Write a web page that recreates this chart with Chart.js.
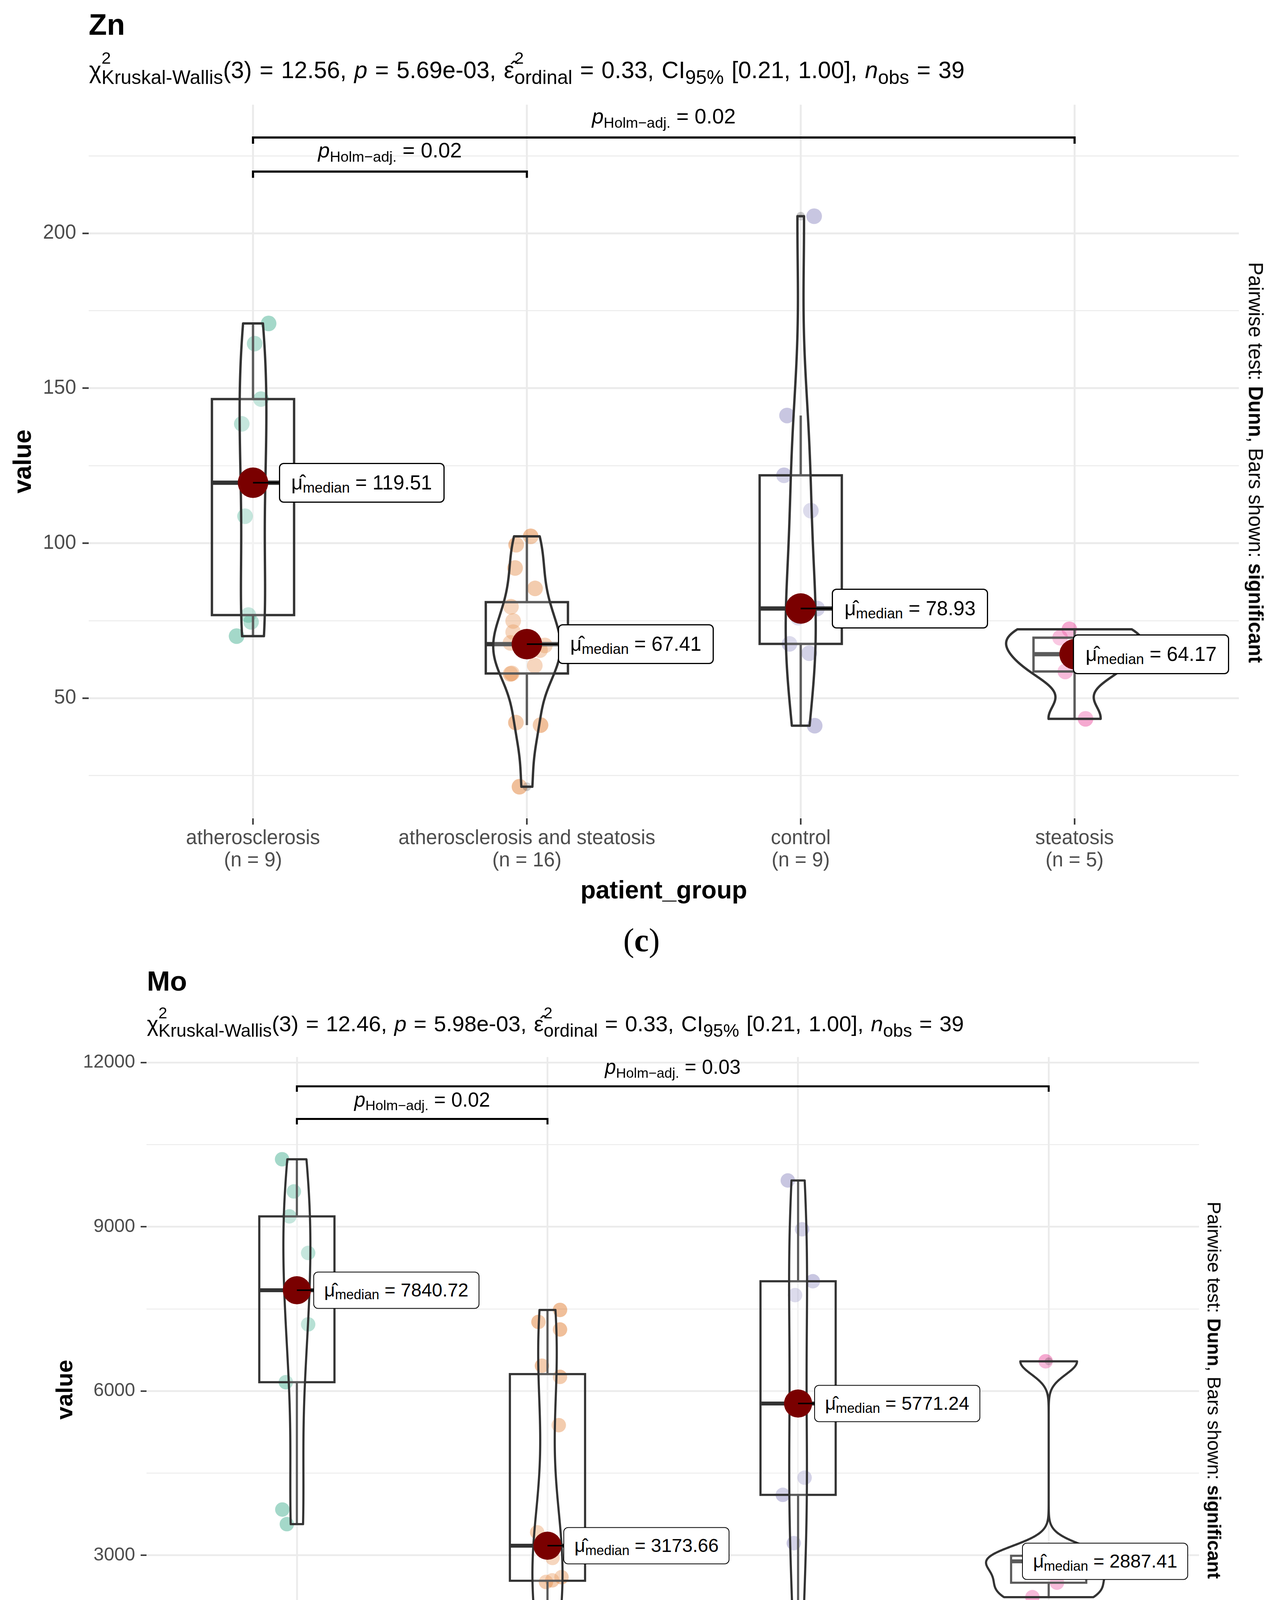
<!DOCTYPE html>
<html>
<head>
<meta charset="utf-8">
<script src="https://cdn.jsdelivr.net/npm/chart.js@4.4.0/dist/chart.umd.min.js"></script>
<style>
html,body{margin:0;padding:0;background:#fff;}
body{width:3289px;height:4772px;position:relative;overflow:hidden;font-family:"Liberation Sans",Arial,Helvetica,sans-serif;color:#000;}
#page{position:absolute;left:0;top:0;width:3289px;height:4772px;}
canvas{position:absolute;left:0;}
.t{position:absolute;white-space:nowrap;line-height:1;}
.ttl{font-weight:bold;}
.sub{word-spacing:3px;}
.ss{position:relative;display:inline-block;}
.ss .sp{position:absolute;left:0;top:-0.5em;font-size:0.72em;}
.sb{position:relative;top:0.3em;font-size:0.82em;}
.rot{transform:translate(-50%,-50%) rotate(90deg);}
.cap{font-family:"Liberation Serif","Times New Roman",serif;transform:translate(-50%,-50%);}
.mlab{position:absolute;white-space:nowrap;background:#fff;border:3px solid #000;border-radius:12px;box-sizing:border-box;transform:translateY(-50%);}
.mlab .msub{position:relative;top:0.22em;font-size:0.72em;}
.blab{position:absolute;white-space:nowrap;line-height:1;transform:translate(-50%,-50%);}
.blab .bsub{position:relative;top:0.28em;font-size:0.7em;}
</style>
</head>
<body>
<div id="page">
<canvas id="zn" width="3289" height="2340" style="top:0px;width:3289px;height:2340px"></canvas>
<canvas id="mo" width="3289" height="2230" style="top:2450px;width:3289px;height:2230px"></canvas>
</div>
<script>
// ---------------- data ----------------
const categories = ['atherosclerosis', 'atherosclerosis and steatosis', 'control', 'steatosis'];

// Zn values per group
const znAtherosclerosis = [170.9, 164.4, 146.5, 138.5, 119.51, 108.7, 76.8, 74.6, 70.0];
const znAthSteatosis   = [102.2, 99.5, 92.0, 85.4, 79.5, 74.9, 71.3, 67.82, 67.0, 65.5, 60.5, 58.0, 57.8, 42.1, 41.3, 21.4];
const znControl        = [205.5, 141.2, 121.9, 110.5, 78.93, 76.0, 67.5, 64.5, 41.1];
const znSteatosis      = [72.2, 69.5, 64.17, 58.6, 43.3];

// horizontal jitter of each point (category units)
const znAtherosclerosisJitter = [0.057, 0.006, 0.029, -0.041, 0.0, -0.029, -0.017, -0.007, -0.060];
const znAthSteatosisJitter   = [0.014, -0.039, -0.043, 0.030, -0.058, -0.050, -0.050, -0.060, 0.066, 0.048, 0.029, -0.055, -0.060, -0.040, 0.050, -0.027];
const znControlJitter        = [0.049, -0.050, -0.061, 0.037, 0.060, -0.010, -0.041, 0.031, 0.051];
const znSteatosisJitter      = [-0.019, -0.053, 0.0, -0.034, 0.040];

// Mo values per group
const moAtherosclerosis = [10233, 9645, 9189, 8521, 7840.72, 7216, 6160, 3834, 3567];
const moAthSteatosis   = [7480, 7261, 7123, 6461, 6257, 5375, 3418, 3227.32, 3120, 2950, 2598, 2540, 2511, 1784, 1681, 499];
const moControl        = [9845, 8953, 8004, 7751, 5771.24, 4416, 4102, 3220, 1266];
const moSteatosis      = [6542, 2989, 2887.41, 2497, 2233];

const moAtherosclerosisJitter = [-0.059, -0.012, -0.030, 0.045, 0.0, 0.045, -0.044, -0.058, -0.040];
const moAthSteatosisJitter   = [0.050, -0.036, 0.050, -0.022, 0.050, 0.045, -0.041, 0.010, -0.020, 0.020, 0.056, 0.019, -0.006, 0.061, -0.033, -0.008];
const moControlJitter        = [-0.041, 0.016, 0.059, -0.012, 0.0, 0.026, -0.061, -0.017, -0.059];
const moSteatosisJitter      = [-0.012, 0.030, 0.0, 0.033, -0.065];

// axis ticks
const znYTicks = [25, 50, 75, 100, 125, 150, 175, 200, 225];
const moYTicks = [0, 1500, 3000, 4500, 6000, 7500, 9000, 10500, 12000];

// pairwise significance brackets: [group a, group b, bracket height, p value]
const znBrackets = [[1, 2, 219.9, '0.02'], [1, 4, 230.9, '0.02']];
const moBrackets = [[1, 2, 10969, '0.02'], [1, 4, 11565, '0.03']];

// Kruskal-Wallis statistics: chi2, p, epsilon2, CI, n
const znStats = ['12.56', '5.69e-03', '0.33', '[0.21, 1.00]', '39'];
const moStats = ['12.46', '5.98e-03', '0.33', '[0.21, 1.00]', '39'];

// ---------------- helpers ----------------
const palette = [[27,158,119],[217,95,2],[117,112,179],[231,41,138]];
const pageEl = document.getElementById('page');
function q7(s, p){ const h=(s.length-1)*p, lo=Math.floor(h); const hi=Math.min(lo+1,s.length-1); return s[lo]+(h-lo)*(s[hi]-s[lo]); }
function sortN(a){ return [...a].sort((x,y)=>x-y); }
function median(a){ return q7(sortN(a), 0.5); }
function bwNrd0(x){
  const n=x.length, m=x.reduce((a,b)=>a+b,0)/n;
  const sd=Math.sqrt(x.reduce((a,b)=>a+(b-m)*(b-m),0)/(n-1));
  const s=sortN(x); const iqr=q7(s,.75)-q7(s,.25);
  let lo=Math.min(sd, iqr/1.34); if(!(lo>0)) lo = sd || Math.abs(x[0]) || 1;
  return 0.9*lo*Math.pow(n,-0.2);
}
function density(vals, n){
  const bw=bwNrd0(vals), from=Math.min(...vals), to=Math.max(...vals), out=[];
  const c=1/(vals.length*bw*Math.sqrt(2*Math.PI));
  for(let i=0;i<n;i++){ const y=from+(to-from)*i/(n-1); let s=0; for(const v of vals){ const z=(y-v)/bw; s+=Math.exp(-0.5*z*z);} out.push({y, d:s*c}); }
  return out;
}

function makePanel(P){
  const S=P.style;
  const groups=P.groups;
  const pts=[], cols=[];
  groups.forEach((vals,gi)=>{ vals.forEach((v,i)=>{ pts.push({x:gi+1+P.jitter[gi][i], y:v}); const c=palette[gi]; cols.push(`rgba(${c[0]},${c[1]},${c[2]},0.4)`); }); });
  const meds=groups.map((vals,gi)=>({x:gi+1, y:median(vals)}));

  const plugin={
    id:'violinBox',
    afterDatasetDraw(chart,args){
      if(args.index!==0) return;
      const ctx=chart.ctx, xs=chart.scales.x, ys=chart.scales.y;
      ctx.save();
      ctx.strokeStyle='#333333';
      groups.forEach((vals,gi)=>{
        const g=gi+1, s=sortN(vals);
        const q1=q7(s,.25), md=q7(s,.5), q3=q7(s,.75), iqr=q3-q1;
        const inside=s.filter(v=>v>=q1-1.5*iqr && v<=q3+1.5*iqr);
        const lo=Math.min(...inside), hi=Math.max(...inside);
        const xl=xs.getPixelForValue(g-0.15), xr=xs.getPixelForValue(g+0.15), xc=xs.getPixelForValue(g);
        ctx.lineWidth=S.whiskerW; ctx.lineCap='butt';
        ctx.beginPath();
        ctx.moveTo(xc,ys.getPixelForValue(q3)); ctx.lineTo(xc,ys.getPixelForValue(hi));
        ctx.moveTo(xc,ys.getPixelForValue(q1)); ctx.lineTo(xc,ys.getPixelForValue(lo));
        ctx.stroke();
        const yt=ys.getPixelForValue(q3), yb=ys.getPixelForValue(q1);
        ctx.fillStyle='rgba(255,255,255,0.2)'; ctx.fillRect(xl,yt,xr-xl,yb-yt);
        ctx.lineWidth=S.boxW; ctx.strokeRect(xl,yt,xr-xl,yb-yt);
        const ym=ys.getPixelForValue(md);
        ctx.lineWidth=S.medianW; ctx.beginPath(); ctx.moveTo(xl,ym); ctx.lineTo(xr,ym); ctx.stroke();
        s.filter(v=>v<q1-1.5*iqr||v>q3+1.5*iqr).forEach(v=>{
          ctx.fillStyle='rgba(51,51,51,0.25)'; ctx.beginPath(); ctx.arc(xc,ys.getPixelForValue(v),S.outlierR,0,2*Math.PI); ctx.fill();
        });
      });
      const dens=groups.map(v=>density(v,512));
      let maxD=0; dens.forEach(a=>a.forEach(p=>{ if(p.d>maxD) maxD=p.d; }));
      dens.forEach((a,gi)=>{
        const g=gi+1;
        ctx.beginPath();
        a.forEach((p,i)=>{ const x=xs.getPixelForValue(g-0.25*p.d/maxD), y=ys.getPixelForValue(p.y); if(i) ctx.lineTo(x,y); else ctx.moveTo(x,y); });
        for(let i=a.length-1;i>=0;i--){ const p=a[i]; ctx.lineTo(xs.getPixelForValue(g+0.25*p.d/maxD), ys.getPixelForValue(p.y)); }
        ctx.closePath();
        ctx.fillStyle='rgba(255,255,255,0.2)'; ctx.fill();
        ctx.lineWidth=S.violinW; ctx.lineJoin='round'; ctx.strokeStyle='#333333'; ctx.stroke();
      });
      ctx.restore();
    },
    afterDatasetsDraw(chart){
      const ctx=chart.ctx, xs=chart.scales.x, ys=chart.scales.y;
      ctx.save();
      ctx.strokeStyle='#000'; ctx.lineWidth=S.segW;
      meds.forEach((m,gi)=>{
        if(S.nudges[gi]<=0) return;
        const px=xs.getPixelForValue(m.x), py=ys.getPixelForValue(m.y);
        ctx.beginPath(); ctx.moveTo(px,py); ctx.lineTo(px+S.nudges[gi],py); ctx.stroke();
      });
      ctx.lineWidth=S.bracketW; ctx.lineJoin='miter';
      P.brackets.forEach(b=>{
        const x1=xs.getPixelForValue(b[0]), x2=xs.getPixelForValue(b[1]);
        const y=ys.getPixelForValue(b[2]), yt=ys.getPixelForValue(b[2]-S.tip);
        ctx.beginPath(); ctx.moveTo(x1,yt); ctx.lineTo(x1,y); ctx.lineTo(x2,y); ctx.lineTo(x2,yt); ctx.stroke();
      });
      ctx.restore();
    }
  };

  const chart=new Chart(document.getElementById(P.id),{
    type:'scatter',
    data:{datasets:[
      {data:pts, pointRadius:S.pointR, pointBackgroundColor:cols, pointBorderWidth:0, order:2},
      {data:meds, pointRadius:S.medianR, pointBackgroundColor:'#7a0000', pointBorderWidth:0, order:1}
    ]},
    options:{
      responsive:false, animation:false, devicePixelRatio:1, events:[],
      layout:{padding:S.pad},
      plugins:{legend:{display:false}, tooltip:{enabled:false}},
      scales:{
        x:{type:'linear', min:0.4, max:4.6, bounds:'data',
           afterBuildTicks:(sc)=>{ sc.ticks=[1,2,3,4].map(v=>({value:v})); },
           afterFit:(sc)=>{ sc.height=S.xHeight; },
           grid:{color:'#ebebeb', lineWidth:S.gridMajor, tickLength:S.tickLen, tickColor:'#333333', tickWidth:S.tickW},
           border:{display:false},
           ticks:{autoSkip:false, maxRotation:0, minRotation:0, padding:S.tickPadX, color:'#4d4d4d',
                  font:{size:S.tickFont, lineHeight:S.tickLH},
                  callback:(v)=>[categories[v-1], '(n = '+groups[v-1].length+')']},
           title:{display:true, text:'patient_group', color:'#000', font:{size:S.axisTitleFont, weight:'bold', lineHeight:1.2}, padding:{top:0,bottom:S.xTitlePadBottom}}
        },
        y:{type:'linear', min:S.yMin, max:S.yMax, bounds:'data',
           afterBuildTicks:(sc)=>{ sc.ticks=P.yTicks.map(v=>({value:v})); },
           afterFit:(sc)=>{ sc.width=S.yWidth; },
           grid:{color:'#ebebeb', lineWidth:(c)=> (c.tick && c.tick.value%S.major===0) ? S.gridMajor : S.gridMinor,
                 tickLength:S.tickLen, tickWidth:S.tickW,
                 tickColor:(c)=> (c.tick && c.tick.value%S.major===0) ? '#333333' : 'rgba(0,0,0,0)'},
           border:{display:false},
           ticks:{autoSkip:false, padding:S.tickPadY, color:'#4d4d4d', font:{size:S.tickFont},
                  callback:(v)=> (v%S.major===0) ? String(v) : ''},
           title:{display:true, text:'value', color:'#000', font:{size:S.axisTitleFont, weight:'bold', lineHeight:1.2}, padding:{top:S.yTitlePadTop,bottom:0}}
        }
      }
    },
    plugins:[plugin]
  });

  // ---- text overlays (real HTML text) ----
  const add=(html,cls,css)=>{ const d=document.createElement('div'); d.className=cls; d.innerHTML=html; Object.assign(d.style,css); pageEl.appendChild(d); return d; };
  add(P.title,'t ttl',{left:S.titleLeft+'px', top:S.titleTop+'px', fontSize:S.titleFont+'px'});
  const st=P.stats;
  add('χ<span class="ss"><span class="sp">2</span><span class="sb">Kruskal-Wallis</span></span>(3) = '+st[0]+', <i>p</i> = '+st[1]+
      ', ε̂<span class="ss"><span class="sp">2</span><span class="sb">ordinal</span></span> = '+st[2]+', CI<span class="sb">95%</span> '+st[3]+
      ', <i>n</i><span class="sb">obs</span> = '+st[4],
      't sub',{left:S.subLeft+'px', top:S.subTop+'px', fontSize:S.subFont+'px'});
  add('Pairwise test: <b>Dunn</b>, Bars shown: <b>significant</b>','t rot',{left:S.rightX+'px', top:S.rightY+'px', fontSize:S.rightFont+'px'});
  add(P.caption,'t cap',{left:S.capX+'px', top:S.capY+'px', fontSize:S.capFont+'px'});

  const xs=chart.scales.x, ys=chart.scales.y;
  meds.forEach((m,gi)=>{
    const px=xs.getPixelForValue(m.x), py=ys.getPixelForValue(m.y);
    add('<span>μ̂</span><span class="msub">median</span> = '+m.y.toFixed(2),'mlab',
        {left:(px+S.nudges[gi])+'px', top:(S.top+py)+'px', fontSize:S.labelFont+'px', height:S.labelH+'px',
         lineHeight:(S.labelH-2*S.labelBorder)+'px', padding:'0 '+S.labelPadX+'px', borderWidth:S.labelBorder+'px'});
  });
  P.brackets.forEach(b=>{
    const cx=(xs.getPixelForValue(b[0])+xs.getPixelForValue(b[1]))/2, y=ys.getPixelForValue(b[2]);
    add('<i>p</i><span class="bsub">Holm−adj.</span> = '+b[3],'blab',{left:cx+'px', top:(S.top+y-S.brOffset)+'px', fontSize:S.brFont+'px'});
  });
}

makePanel({
  id:'zn', title:'Zn', caption:'(<b>c</b>)',
  groups:[znAtherosclerosis, znAthSteatosis, znControl, znSteatosis],
  jitter:[znAtherosclerosisJitter, znAthSteatosisJitter, znControlJitter, znSteatosisJitter],
  yTicks:znYTicks, brackets:znBrackets, stats:znStats,
  style:{top:0, pad:{top:268,right:118,left:0,bottom:0}, yWidth:227, xHeight:245,
    yMin:11.2, yMax:241.5, major:50,
    tickFont:51, tickLH:1.12, tickLen:16, tickPadX:7.5, tickPadY:16, tickW:4,
    axisTitleFont:64, xTitlePadBottom:19.6, yTitlePadTop:22.6,
    pointR:20, medianR:39, outlierR:11,
    violinW:6, boxW:6, medianW:11, whiskerW:6, gridMajor:5, gridMinor:2.5,
    bracketW:5.5, tip:2.0, segW:4,
    labelFont:51, labelH:102, labelBorder:3, labelPadX:29, nudges:[66,79,80,-4],
    brFont:54, brOffset:55,
    titleLeft:227, titleTop:89-0.8465*76, titleFont:76,
    subLeft:228, subTop:200-0.8465*60.3, subFont:60.3,
    rightX:3214, rightY:1184, rightFont:51,
    capX:1642, capY:2407, capFont:84}
});

makePanel({
  id:'mo', title:'Mo', caption:'(<b>d</b>)',
  groups:[moAtherosclerosis, moAthSteatosis, moControl, moSteatosis],
  jitter:[moAtherosclerosisJitter, moAthSteatosisJitter, moControlJitter, moSteatosisJitter],
  yTicks:moYTicks, brackets:moBrackets, stats:moStats,
  style:{top:2450, pad:{top:256,right:220,left:0,bottom:0}, yWidth:375, xHeight:271,
    yMin:-52, yMax:12100, major:3000,
    tickFont:48, tickLH:1.1, tickLen:15, tickPadX:5.6, tickPadY:14, tickW:3.7,
    axisTitleFont:60, xTitlePadBottom:65, yTitlePadTop:132,
    pointR:18.5, medianR:36, outlierR:10,
    violinW:5.5, boxW:5.5, medianW:10, whiskerW:5.5, gridMajor:4.6, gridMinor:2.3,
    bracketW:5, tip:100, segW:3.7,
    labelFont:48, labelH:95, labelBorder:2.8, labelPadX:26, nudges:[42,41,41,-68],
    brFont:51, brOffset:50,
    titleLeft:376, titleTop:2536-0.8465*71, titleFont:71,
    subLeft:376, subTop:2641-0.8465*56.2, subFont:56.2,
    rightX:3107, rightY:3559, rightFont:48,
    capX:1650, capY:4700, capFont:84}
});
</script>
</body>
</html>
